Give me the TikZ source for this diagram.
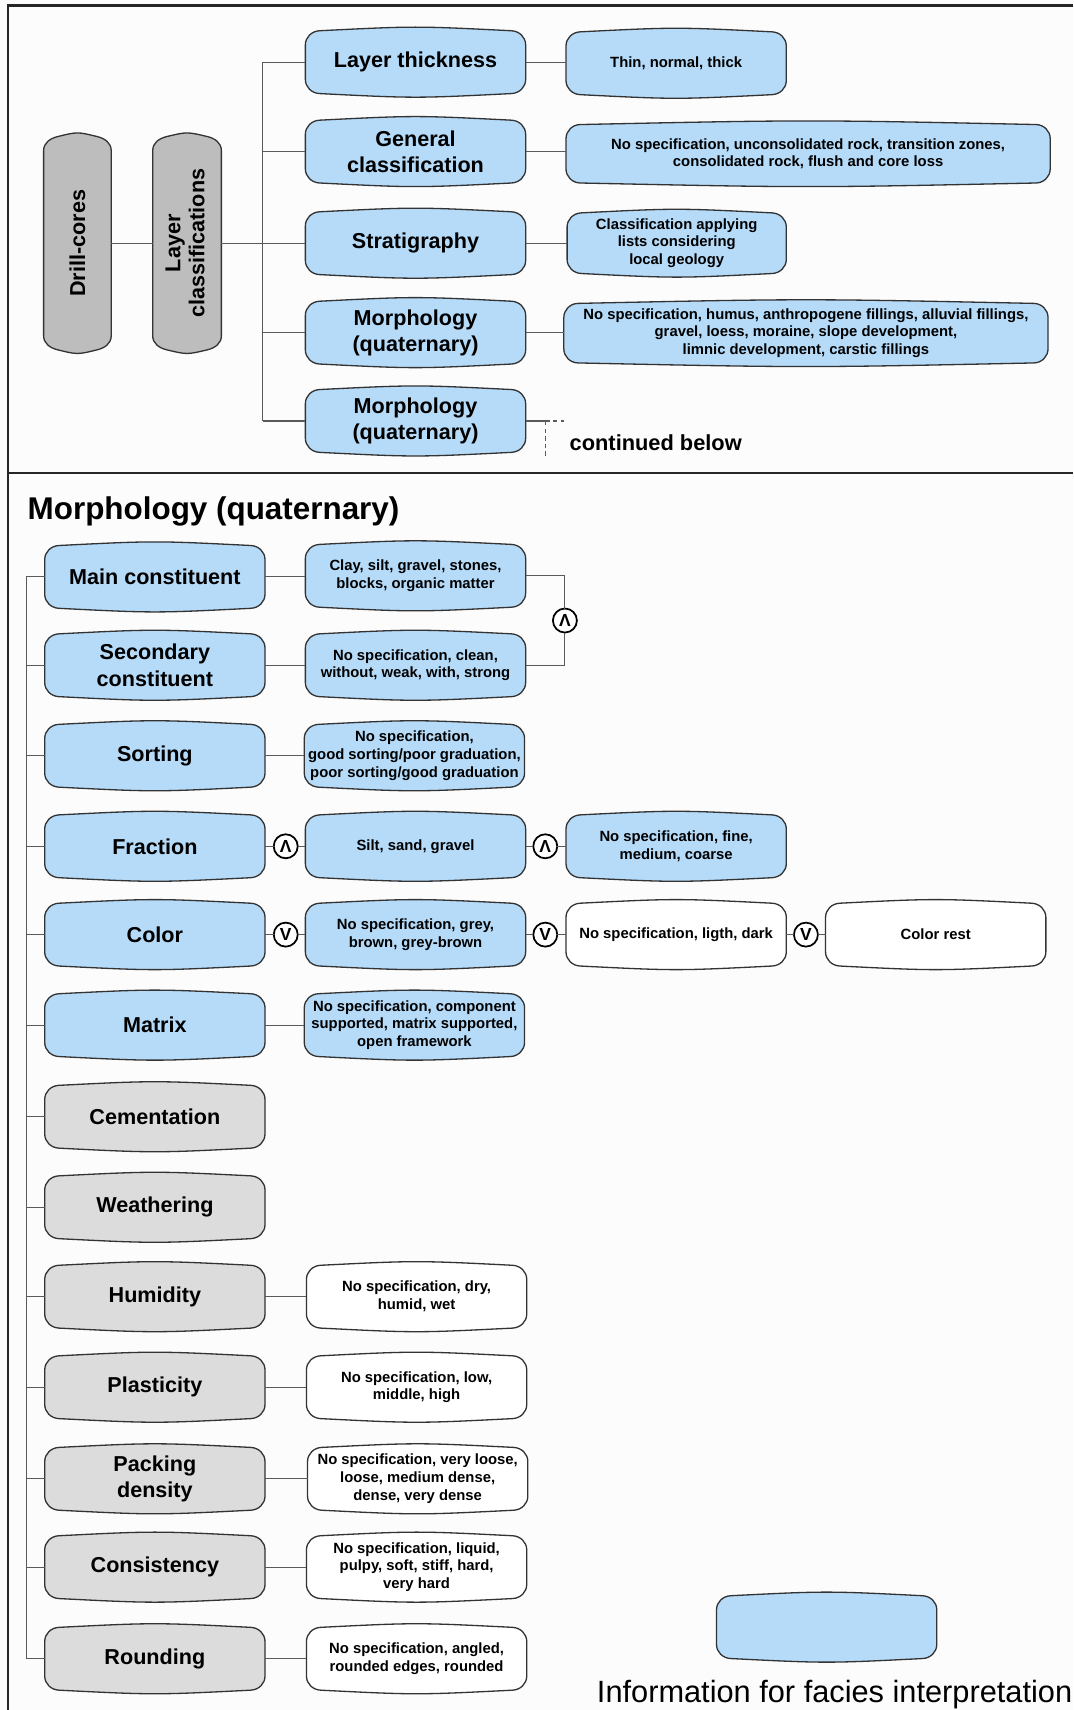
\documentclass[tikz,border=0pt]{standalone}
\usepackage{fontspec}
\setmainfont{Liberation Sans}
\usetikzlibrary{backgrounds,calc}

\definecolor{boxblue}{HTML}{B5DBF9}
\definecolor{coregray}{HTML}{BDBDBD}
\definecolor{propgray}{HTML}{DCDCDC}
\definecolor{edgec}{HTML}{333333}
\definecolor{linkc}{HTML}{5A5A5A}
\definecolor{paper}{HTML}{FCFCFC}

% Outline of a box with rounded corners and slightly bowed top and bottom edges;
% \n1 is the slope of the bowed edge where it meets a corner, so the joint is smooth
\newcommand\bulgebox[2]{%
  \path[draw=edgec,line width=0.6pt,fill=#2]
    let \p1=(#1.north west), \p2=(#1.south east), \p3=(#1.center),
        \n1={2.2/(\x3-\x1-6.5)} in
    (\x1,\y1-7.6pt)
    .. controls (\x1,\y1-4.0pt) and (\x1+2.9pt,{\y1-1.1pt-3.6pt*\n1}) .. (\x1+6.5pt,\y1-1.1pt)
    .. controls (\x3,\y1+1.1pt) .. (\x2-6.5pt,\y1-1.1pt)
    .. controls (\x2-2.9pt,{\y1-1.1pt-3.6pt*\n1}) and (\x2,\y1-4.0pt) .. (\x2,\y1-7.6pt)
    -- (\x2,\y2+7.6pt)
    .. controls (\x2,\y2+4.0pt) and (\x2-2.9pt,{\y2+1.1pt+3.6pt*\n1}) .. (\x2-6.5pt,\y2+1.1pt)
    .. controls (\x3,\y2-1.1pt) .. (\x1+6.5pt,\y2+1.1pt)
    .. controls (\x1+2.9pt,{\y2+1.1pt+3.6pt*\n1}) and (\x1,\y2+4.0pt) .. (\x1,\y2+7.6pt)
    -- cycle;}

\tikzset{
  lbl/.style={rectangle,inner sep=0pt,outer sep=0pt,minimum width=101pt,minimum height=31pt,
    align=center,font=\bfseries\fontsize{9.9}{12}\selectfont},
  vals/.style={lbl,font=\bfseries\fontsize{6.8}{8.2}\selectfont},
  link/.style={draw=linkc,line width=0.5pt},
  gate/.style={circle,draw=black,line width=0.8pt,fill=white,minimum size=11pt,inner sep=0pt,
    outer sep=0pt,font=\bfseries\fontsize{8}{8}\selectfont},
  frame/.style={draw=black!85,line width=1pt},
  dashlink/.style={link,dash pattern=on 2pt off 1.5pt},
}

\begin{document}
\begin{tikzpicture}[x=0.5pt,y=-0.5pt]
\useasboundingbox (0,0) rectangle (984,1568);

% ---------- upper panel: layer classifications ----------
\node[lbl,minimum width=31pt,minimum height=100pt] (drill) at (71,223) {\rotatebox{90}{Drill-cores}};
\node[lbl,minimum width=31.5pt,minimum height=100pt] (layer) at (171.5,223)
  {\rotatebox{90}{\begin{tabular}{@{}c@{}}Layer\\[-1pt]classifications\end{tabular}}};

\node[lbl] (thick)   at (381,57)  {Layer thickness};
\node[lbl] (general) at (381,139) {General\\classification};
\node[lbl] (strat)   at (381,223) {Stratigraphy};
\node[lbl] (morphA)  at (381,305) {Morphology\\(quaternary)};
\node[lbl] (morphB)  at (381,386) {Morphology\\(quaternary)};

\node[vals] (thickv) at (620,58) {Thin, normal, thick};
\node[vals,minimum width=222pt,minimum height=29pt] (generalv) at (741,141)
  {No specification, unconsolidated rock, transition zones,\\consolidated rock, flush and core loss};
\node[vals,minimum width=100.5pt,minimum height=30pt] (stratv) at (620.5,223)
  {Classification applying\\lists considering\\local geology};
\node[vals,minimum width=222pt,minimum height=29.5pt] (morphAv) at (739,305.5)
  {No specification, humus, anthropogene fillings, alluvial fillings,\\gravel, loess, moraine, slope development,\\limnic development, carstic fillings};

\coordinate (tbus) at (241,57);
\draw[link] (drill) -- (layer);
\draw[link] (layer.east) -- (layer.east -| tbus);
\draw[link] (thick.west -| tbus) -- (morphB.west -| tbus);
\foreach \bx in {thick,general,strat,morphA,morphB}
  \draw[link] (\bx.west -| tbus) -- (\bx.west);
\foreach \ba/\bb in {thick/thickv,general/generalv,strat/stratv,morphA/morphAv}
  \draw[link] (\ba.east) -- (\ba.east -| \bb.west);

\coordinate (cont) at (500,386);
\coordinate (contR) at (517,386);
\coordinate (contD) at (500,418);
\draw[link] (morphB.east) -- (cont);
\draw[dashlink] (cont) -- (contR);
\draw[dashlink] (cont) -- (contD);
\node[anchor=base west,inner sep=0pt,font=\bfseries\fontsize{10}{12}\selectfont] (contlbl) at (522,413) {continued below};

% ---------- lower panel: morphology (quaternary) ----------
\node[anchor=base west,inner sep=0pt,font=\bfseries\fontsize{14.4}{16}\selectfont] (title) at (25,476) {Morphology (quaternary)};

\node[lbl] (mainc)   at (142,529)  {Main constituent};
\node[lbl] (secc)    at (142,610)  {Secondary\\constituent};
\node[lbl] (sort)    at (142,693)  {Sorting};
\node[lbl] (frac)    at (142,776)  {Fraction};
\node[lbl] (color)   at (142,857)  {Color};
\node[lbl] (matrix)  at (142,940)  {Matrix};
\node[lbl] (cement)  at (142,1024) {Cementation};
\node[lbl] (weather) at (142,1107) {Weathering};
\node[lbl] (humid)   at (142,1189) {Humidity};
\node[lbl] (plast)   at (142,1272) {Plasticity};
\node[lbl] (pack)    at (142,1356) {Packing\\density};
\node[lbl] (consist) at (142,1437) {Consistency};
\node[lbl] (round)   at (142,1521) {Rounding};

\node[vals] (mainv)    at (381,528)  {Clay, silt, gravel, stones,\\blocks, organic matter};
\node[vals] (secv)     at (381,610)  {No specification, clean,\\without, weak, with, strong};
\node[vals] (sortv)    at (380,693)  {No specification,\\good sorting/poor graduation,\\poor sorting/good graduation};
\node[vals] (fracv)    at (381,776)  {Silt, sand, gravel};
\node[vals] (colorv)   at (381,857)  {No specification, grey,\\brown, grey-brown};
\node[vals] (matrixv)  at (380,940)  {No specification, component\\supported, matrix supported,\\open framework};
\node[vals] (humidv)   at (382,1189) {No specification, dry,\\humid, wet};
\node[vals] (plastv)   at (382,1272) {No specification, low,\\middle, high};
\node[vals] (packv)    at (383,1356) {No specification, very loose,\\loose, medium dense,\\dense, very dense};
\node[vals] (consistv) at (382,1437) {No specification, liquid,\\pulpy, soft, stiff, hard,\\very hard};
\node[vals] (roundv)   at (382,1521) {No specification, angled,\\rounded edges, rounded};

\node[vals] (fracv2)  at (620,776) {No specification, fine,\\medium, coarse};
\node[vals] (colorv2) at (620,857) {No specification, ligth, dark};
\node[vals] (colorv3) at (858,857) {Color rest};

\node[gate] (andA) at (518,569) {Λ};
\node[gate] (andB) at (262,776) {Λ};
\node[gate] (andC) at (500,776) {Λ};
\node[gate] (orA)  at (262,857) {V};
\node[gate] (orB)  at (500,857) {V};
\node[gate] (orC)  at (739,857) {V};

\coordinate (bbus) at (24,529);
\draw[link] (mainc.west -| bbus) -- (round.west -| bbus);
\foreach \bx in {mainc,secc,sort,frac,color,matrix,cement,weather,humid,plast,pack,consist,round}
  \draw[link] (\bx.west -| bbus) -- (\bx.west);
\foreach \ba/\bb in {mainc/mainv,secc/secv,sort/sortv,matrix/matrixv,humid/humidv,plast/plastv,pack/packv,consist/consistv,round/roundv}
  \draw[link] (\ba.east) -- (\ba.east -| \bb.west);

\draw[link] (mainv.east) -- (mainv.east -| andA) -- (andA.north);
\draw[link] (andA.south) -- (secv.east -| andA) -- (secv.east);
\draw[link] (frac.east) -- (andB.west);
\draw[link] (andB.east) -- (fracv.west);
\draw[link] (fracv.east) -- (andC.west);
\draw[link] (andC.east) -- (fracv2.west);
\draw[link] (color.east) -- (orA.west);
\draw[link] (orA.east) -- (colorv.west);
\draw[link] (colorv.east) -- (orB.west);
\draw[link] (orB.east) -- (colorv2.west);
\draw[link] (colorv2.east) -- (orC.west);
\draw[link] (orC.east) -- (colorv3.west);

% legend
\node[lbl] (legend) at (758,1492) {};
\node[anchor=base west,inner sep=0pt,font=\fontsize{14.1}{16}\selectfont] (legendlbl) at (547,1561) {Information for facies interpretation};

% panel frame
\draw[frame] (984,5) -- (7,5) -- (7,1568);
\draw[frame] (7,434) -- (984,434);

% box outlines behind the labels
\begin{scope}[on background layer]
  \fill[paper] (0,0) rectangle (984,1568);
  \foreach \bx/\bc in {drill/coregray,layer/coregray,
      thick/boxblue,general/boxblue,strat/boxblue,morphA/boxblue,morphB/boxblue,
      thickv/boxblue,generalv/boxblue,stratv/boxblue,morphAv/boxblue,
      mainc/boxblue,secc/boxblue,sort/boxblue,frac/boxblue,color/boxblue,matrix/boxblue,
      mainv/boxblue,secv/boxblue,sortv/boxblue,fracv/boxblue,colorv/boxblue,matrixv/boxblue,
      fracv2/boxblue,legend/boxblue,
      cement/propgray,weather/propgray,humid/propgray,plast/propgray,pack/propgray,
      consist/propgray,round/propgray,
      humidv/white,plastv/white,packv/white,consistv/white,roundv/white,
      colorv2/white,colorv3/white}
    {\bulgebox{\bx}{\bc}}
\end{scope}
\end{tikzpicture}
\end{document}
